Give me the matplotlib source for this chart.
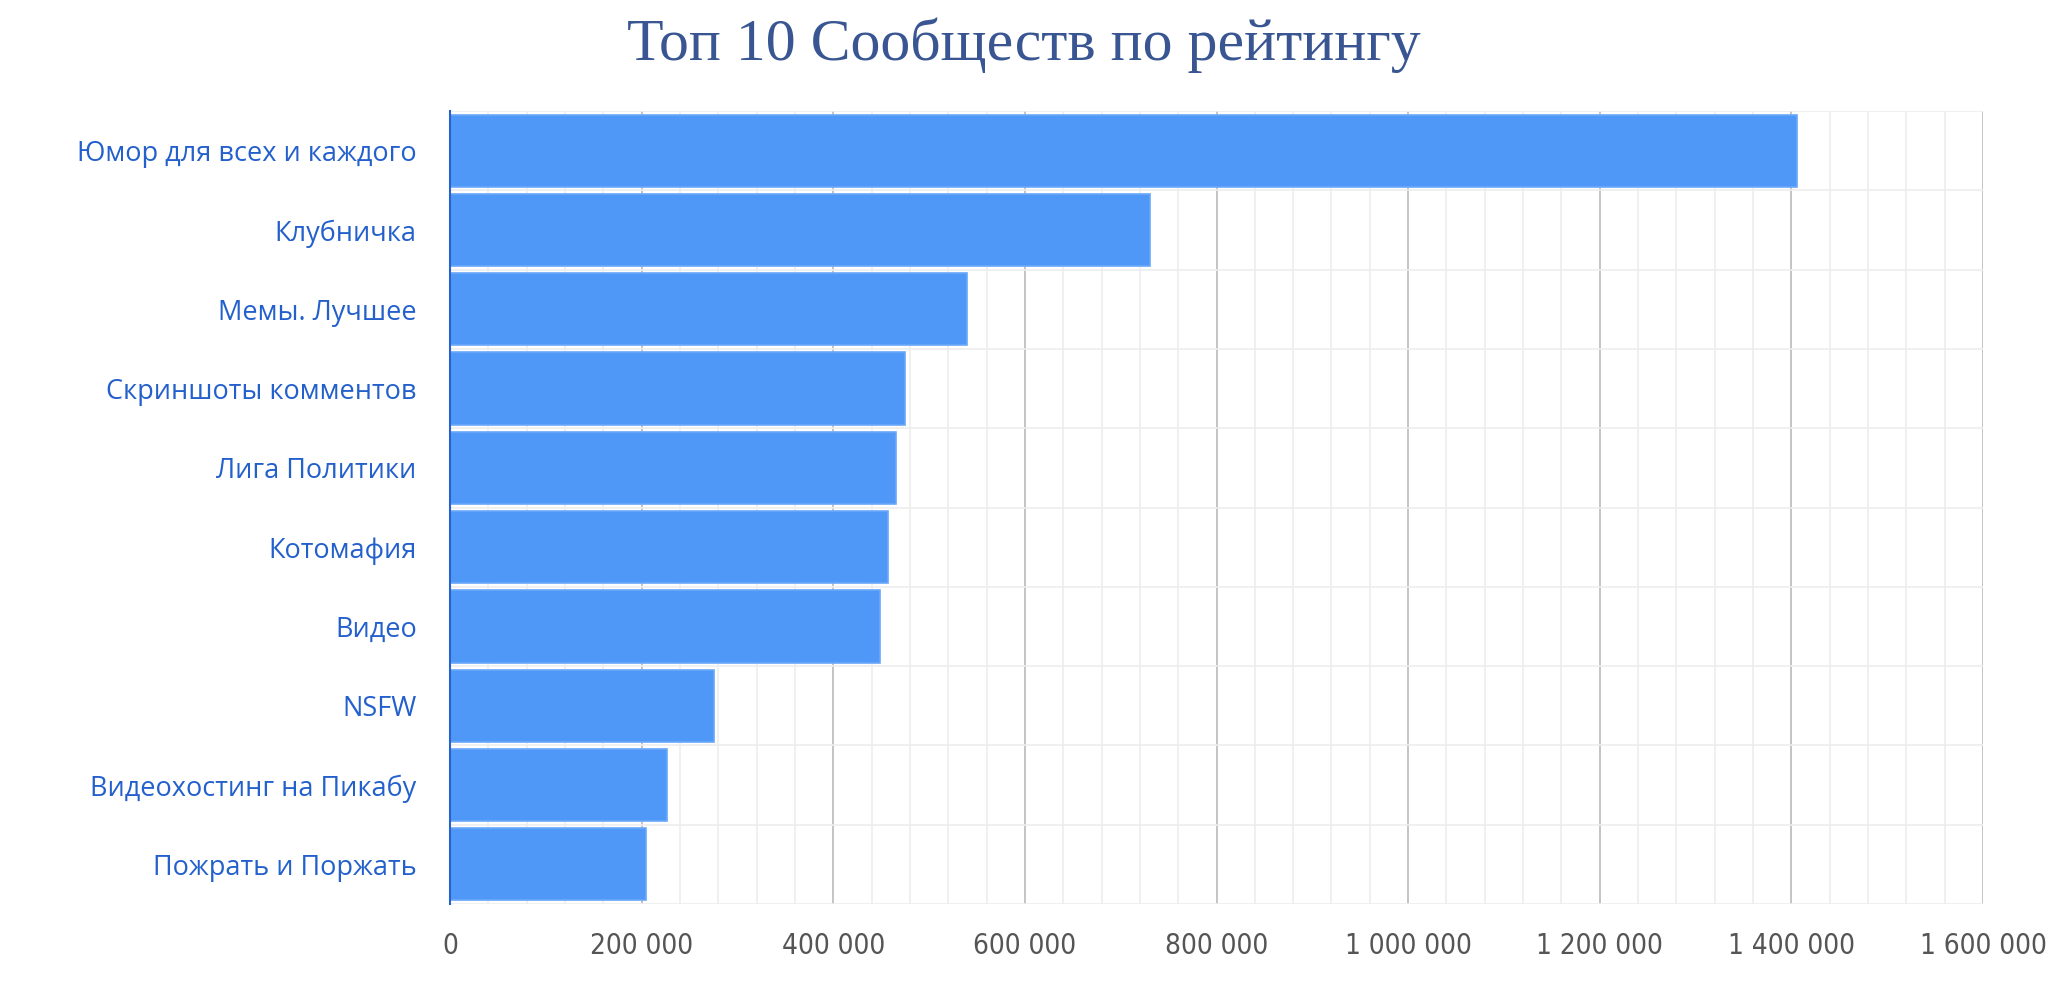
import matplotlib
matplotlib.use("Agg")
import matplotlib.pyplot as plt
from matplotlib.ticker import MultipleLocator, FuncFormatter

# data
communities = ["Юмор для всех и каждого", "Клубничка", "Мемы. Лучшее",
               "Скриншоты комментов", "Лига Политики", "Котомафия", "Видео",
               "NSFW", "Видеохостинг на Пикабу", "Пожрать и Поржать"]
rating = [1406000, 731000, 540000, 475000, 465000, 457000, 449000,
          276000, 226000, 205000]
title = "Топ 10 Сообществ по рейтингу"

W, H = 2048, 985
fig = plt.figure(figsize=(W / 100, H / 100), dpi=100)
ax = fig.add_axes([450 / W, 1 - 904 / H, (1983 - 450) / W, (904 - 111) / H])

ypos = list(range(len(communities)))
ax.barh(ypos, rating, height=0.91, color="#5098f8", edgecolor="#6aa8fa",
        linewidth=1.2, zorder=3)

ax.set_xlim(0, 1600000)
ax.set_ylim(len(communities) - 0.5, -0.5)

ax.xaxis.set_major_locator(MultipleLocator(200000))
ax.xaxis.set_minor_locator(MultipleLocator(40000))
ax.xaxis.set_major_formatter(FuncFormatter(lambda v, p: f"{int(v):,}".replace(",", " ")))
ax.set_yticks(ypos)
ax.set_yticklabels(communities)
ax.set_yticks([i + 0.5 for i in range(-1, len(communities))], minor=True)

ax.grid(axis="x", which="major", color="#c4c4c4", linewidth=1.4, zorder=0)
ax.grid(axis="x", which="minor", color="#ededed", linewidth=1.2, zorder=0)
ax.grid(axis="y", which="minor", color="#ededed", linewidth=1.2, zorder=0)

for s in ["top", "right", "bottom"]:
    ax.spines[s].set_visible(False)
ax.spines["left"].set_color("#2962c8")
ax.spines["left"].set_linewidth(1.5)
ax.spines["left"].set_zorder(4)

ax.tick_params(axis="both", which="both", length=0)
ax.tick_params(axis="y", pad=24)
ax.tick_params(axis="x", pad=20)
for lab in ax.get_yticklabels():
    lab.set_fontfamily(["Open Sans", "DejaVu Sans"])
    lab.set_fontsize(19.5)
    lab.set_color("#2360cc")
for lab in ax.get_xticklabels():
    lab.set_fontfamily(["Liberation Sans Narrow", "Noto Sans Condensed",
                        "Noto Sans SemiCondensed", "DejaVu Sans"])
    lab.set_fontstretch("condensed")
    lab.set_fontsize(20)
    lab.set_color("#555555")

fig.text(0.5, 1 - 60 / H, title, ha="center", va="baseline",
         fontsize=43, color="#395693", family=["Liberation Serif", "DejaVu Serif"])

fig.savefig("out.png", dpi=100, facecolor="white")
